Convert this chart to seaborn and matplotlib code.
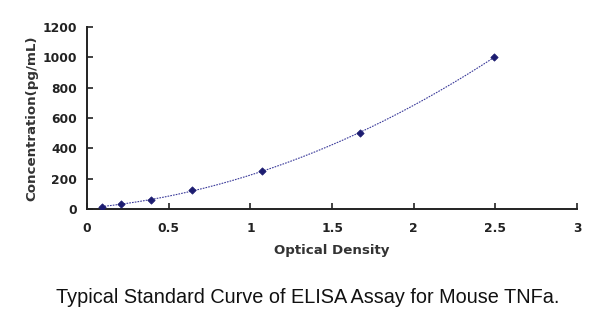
import numpy as np
import pandas as pd
import matplotlib
matplotlib.use("Agg")
import matplotlib.pyplot as plt
import seaborn as sns

# Standard curve readings
optical_density = [0.09, 0.21, 0.39, 0.64, 1.07, 1.67, 2.49]
concentration = [15.6, 31.25, 62.5, 125, 250, 500, 1000]
x_ticks = [0, 0.5, 1, 1.5, 2, 2.5, 3]
x_tick_labels = ["0", "0.5", "1", "1.5", "2", "2.5", "3"]
y_ticks = [0, 200, 400, 600, 800, 1000, 1200]

sns.set_theme(style="ticks")
plt.rcParams["font.family"] = ["DejaVu Sans"]

df = pd.DataFrame({"od": optical_density, "conc": concentration})

# Second-order polynomial fit through the standards
coef = np.polyfit(df["od"], df["conc"], 2)
xs = np.linspace(min(optical_density), max(optical_density), 200)
fit = pd.DataFrame({"od": xs, "conc": np.polyval(coef, xs)})

fig = plt.figure(figsize=(6, 3.32), dpi=100)
ax = fig.add_axes([0.145, 0.370, 0.817, 0.549])

sns.lineplot(data=fit, x="od", y="conc", ax=ax, color="#3a3a9a",
             linewidth=0.8, linestyle=(0, (1.5, 1.0)))
sns.scatterplot(data=df, x="od", y="conc", ax=ax, marker="D", s=14,
                color="#1c1c70", edgecolor="#1c1c70", linewidth=0.5, zorder=3)

ax.set_xlim(0, 3)
ax.set_ylim(0, 1200)
ax.set_xticks(x_ticks)
ax.set_xticklabels(x_tick_labels)
ax.set_yticks(y_ticks)
ax.tick_params(direction="in", length=4, width=1.2, colors="#222222",
               labelsize=8.8, pad=7)
ax.tick_params(axis="x", pad=9)
for lab in ax.get_xticklabels() + ax.get_yticklabels():
    lab.set_fontweight("bold")
    lab.set_color("#222222")
for side in ("top", "right"):
    ax.spines[side].set_visible(False)
for side in ("left", "bottom"):
    ax.spines[side].set_linewidth(1.4)
    ax.spines[side].set_color("#222222")

ax.set_xlabel("Optical Density", fontsize=9.6, fontweight="bold",
              color="#333333", labelpad=7)
ax.set_ylabel("Concentration(pg/mL)", fontsize=9.6, fontweight="bold",
              color="#333333", labelpad=3)

fig.text(0.5125, 0.105, "Typical Standard Curve of ELISA Assay for Mouse TNFa.",
         ha="center", va="center", fontsize=14.3, color="#111111",
         family=["Liberation Sans", "DejaVu Sans"])

fig.savefig("out.png", dpi=100, facecolor="white")
